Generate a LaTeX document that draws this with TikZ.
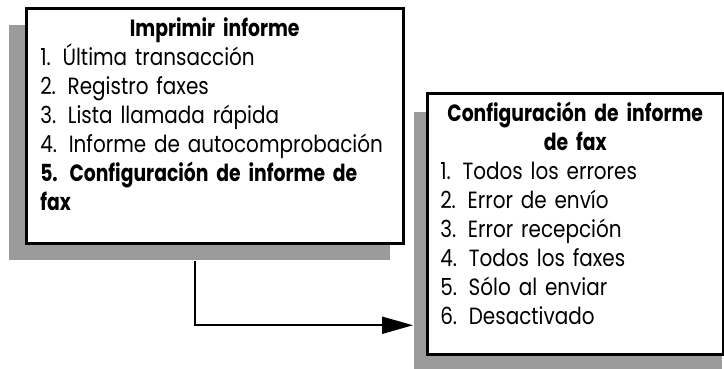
\documentclass[tikz,border=0pt]{standalone}
\usepackage{fontspec}
\setmainfont{Poppins}[FakeStretch=0.85, WordSpace=0.8, BoldFeatures={FakeStretch=0.8}]
\usetikzlibrary{calc,arrows.meta,backgrounds}
\definecolor{sombra}{RGB}{155,155,155}
\hyphenpenalty=10000
\exhyphenpenalty=10000
\begin{document}
\begin{tikzpicture}[x=1pt, y=-1pt,
		menu/.style={draw, line width=2.5pt, fill=white, anchor=north west, align=left,
			inner xsep=14pt, inner ysep=0pt, font=\fontsize{23.5}{29}\selectfont},
		flecha/.style={line width=2pt, -{Triangle[length=31pt, width=17pt]}},
	]
	\useasboundingbox (0,0) rectangle (724,368);

	\node[menu, text width=349pt, minimum width=377pt, minimum height=235pt] (imprimir) at (25,7)
		{{\centering\bfseries Imprimir informe\par}
		1. Última transacción\\
		2. Registro faxes\\
		3. Lista llamada rápida\\
		4. Informe de autocomprobación\\
		\textbf{5. Configuración de informe de}\\
		\textbf{fax}\rule[-24pt]{0pt}{0pt}};
	\node[menu, inner xsep=13pt, text width=270pt, minimum width=296pt, minimum height=261pt] (config) at (426,92)
		{{\centering\bfseries Configuración de informe\\ de fax\par}
		1. Todos los errores\\
		2. Error de envío\\
		3. Error recepción\\
		4. Todos los faxes\\
		5. Sólo al enviar\\
		6. Desactivado\rule[-22pt]{0pt}{0pt}};

	% sombras
	\begin{scope}[on background layer]
		\fill[sombra] ($(imprimir.north west)+(-16,18)$) rectangle ($(imprimir.south east)+(-15,15)$);
		\fill[sombra] ($(config.north west)+(-12,20)$) rectangle ($(config.south east)+(-3,20)$);
	\end{scope}

	\draw[flecha] ([xshift=-19.5pt, yshift=-16pt]imprimir.south) |- ([xshift=-13pt, yshift=-101.5pt]config.west);
\end{tikzpicture}
\end{document}
